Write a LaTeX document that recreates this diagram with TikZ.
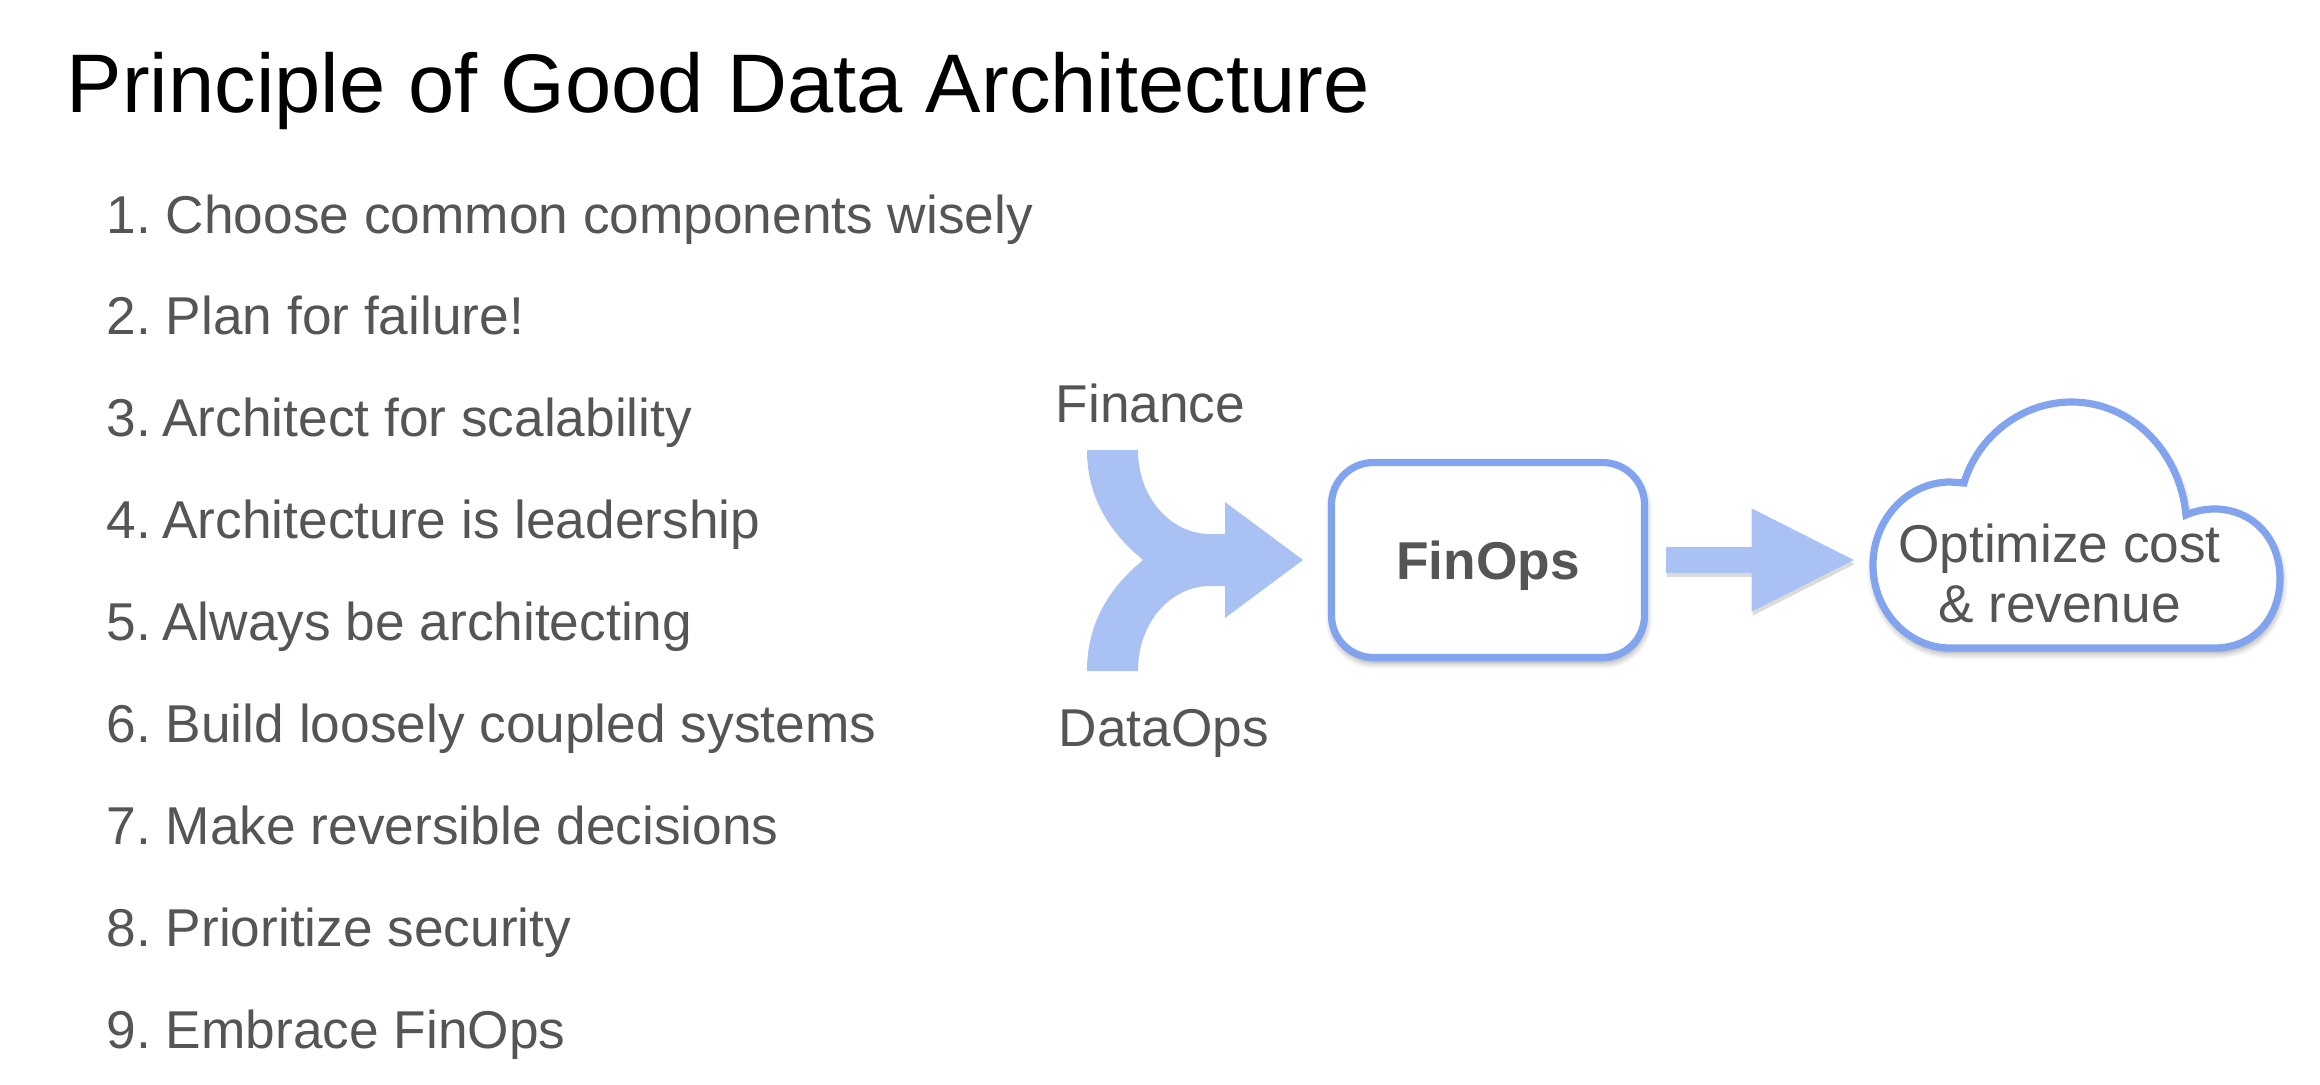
\documentclass[tikz,border=0pt]{standalone}
\usepackage{fontspec}
\setmainfont{Liberation Sans}
\usetikzlibrary{arrows.meta}
\usetikzlibrary{shadows.blur}
\definecolor{mblue}{HTML}{82A3EE}
\definecolor{mpale}{HTML}{A9C1F3}
\definecolor{mtext}{HTML}{555555}
\tikzset{body/.style = {anchor = base west, inner sep = 0, text = mtext, font = \fontsize{15.15}{17.07}\selectfont\frenchspacing}}
\tikzset{softshadow/.style = {blur shadow = {shadow xshift = 0.01cm, shadow yshift = -0.045cm, shadow blur steps = 6, shadow blur radius = 0.07cm, shadow opacity = 45}}}
\tikzset{flowarrow/.style = {line width = 0.26cm, -{Triangle[length = 1.05cm, width = 0.95cm]}, shorten <= 0.18cm, shorten >= 0.135cm}}

\begin{document}
\begin{tikzpicture}
      \useasboundingbox (0, 0) rectangle (23.2, 10.84);

      \node [anchor = base west, inner sep = 0, font = \fontsize{23.65}{28}\selectfont\frenchspacing] (title) at (0.66, 9.715) {Principle of Good Data Architecture};

      \foreach \n/\txt in {1/Choose common components wisely, 2/Plan for failure!, 3/\kern-1pt Architect for scalability, 4/\kern-1pt Architecture is leadership, 5/\kern-1pt Always be architecting, 6/Build loosely coupled systems, 7/Make reversible decisions, 8/Prioritize security, 9/Embrace FinOps} {
        \node [body] (item\n) at (1.06, {8.51 - (\n - 1) * 1.019}) {\n. \txt};
      }

      \node [body] (finance) at (10.55, 6.62) {Finance};
      \node [body] (dataops) at (10.58, 3.38) {DataOps};

      % merging arrow
      \fill [mpale] (10.87, 6.34) -- (11.38, 6.34) .. controls (11.38, 5.85) and (11.72, 5.50) .. (12.10, 5.50)
        -- (12.25, 5.50) -- (12.25, 5.82) -- (13.03, 5.24) -- (12.25, 4.66) -- (12.25, 4.98) -- (12.10, 4.98)
        .. controls (11.72, 4.98) and (11.38, 4.63) .. (11.38, 4.13) -- (10.87, 4.13)
        .. controls (10.87, 4.60) and (11.08, 4.95) .. (11.43, 5.24)
        .. controls (11.08, 5.53) and (10.87, 5.88) .. (10.87, 6.34) -- cycle;

      \node [draw = mblue, fill = white, line width = 0.072cm, rounded corners = 0.42cm, minimum width = 3.13cm, minimum height = 1.95cm, text = mtext, text depth = 0, softshadow, font = \fontsize{15.15}{17}\selectfont\bfseries] (finops) at (14.88, 5.24) {FinOps};

      % cloud
      \draw [mblue, fill = white, line width = 0.072cm, softshadow] (19.50, 4.36) -- (22.146, 4.36)
        .. controls (22.54, 4.36) and (22.80, 4.66) .. (22.80, 5.06)
        .. controls (22.80, 5.46) and (22.52, 5.75) .. (22.146, 5.75)
        .. controls (22.05, 5.75) and (21.95, 5.73) .. (21.86, 5.69)
        .. controls (21.80, 6.32) and (21.32, 6.82) .. (20.715, 6.82)
        .. controls (20.22, 6.82) and (19.78, 6.48) .. (19.64, 6.01)
        -- (19.50, 6.02)
        .. controls (19.08, 6.02) and (18.73, 5.65) .. (18.73, 5.19)
        .. controls (18.73, 4.73) and (19.08, 4.36) .. (19.50, 4.36) -- cycle;
      \coordinate (cloudwest) at (18.70, 5.24);

      \node [align = center, inner sep = 0, text = mtext, font = \fontsize{15.15}{17.07}\selectfont] (optimize) at (20.595, 5.11) {Optimize cost\\\& revenue};

      \draw [flowarrow, black!14, transform canvas = {shift = {(0.01, -0.04)}}] (finops.east) -- (cloudwest);
      \draw [flowarrow, mpale] (finops.east) -- (cloudwest);
    \end{tikzpicture}
\end{document}
